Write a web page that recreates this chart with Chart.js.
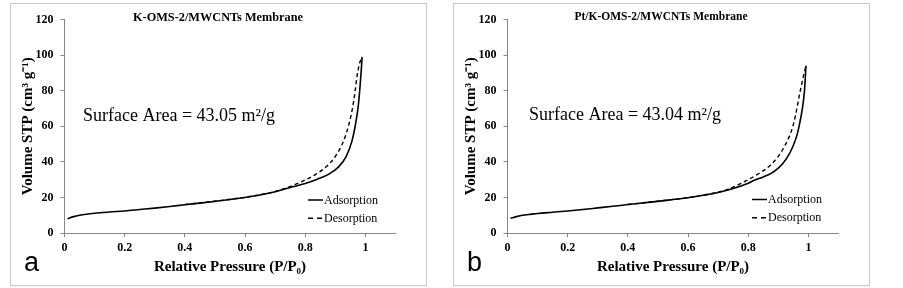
<!DOCTYPE html>
<html>
<head>
<meta charset="utf-8">
<script src="https://cdn.jsdelivr.net/npm/chart.js@4.4.1/dist/chart.umd.min.js"></script>
<style>
  html, body { margin: 0; padding: 0; background: #ffffff; }
  body { width: 903px; height: 288px; position: relative; overflow: hidden; }
  .panel { position: absolute; top: 3px; width: 415px; height: 281px; border: 1px solid #c8c8c8; background: #fff; }
  #pa { left: 10px; }
  #pb { left: 453px; }
  .panel canvas { display: block; }
</style>
</head>
<body>
<div class="panel" id="pa"><canvas id="ca"></canvas></div>
<div class="panel" id="pb"><canvas id="cb"></canvas></div>
<script>
// ---------- data ----------
const xTickValues = [0, 0.2, 0.4, 0.6, 0.8, 1];
const xTickLabels = ['0', '0.2', '0.4', '0.6', '0.8', '1'];
const yTickValues = [0, 20, 40, 60, 80, 100, 120];

const seriesNames = ['Adsorption', 'Desorption'];

// Panel a: K-OMS-2/MWCNTs Membrane
const aAdsP = [0.01,0.03,0.05,0.08,0.1,0.15,0.2,0.25,0.3,0.35,0.4,0.45,0.5,0.55,0.6,0.65,0.7,0.75,0.8,0.84,0.88,0.91,0.935,0.955,0.966,0.976,0.982,0.986,0.989];
const aAdsV = [8.0,9.2,10.0,10.7,11.1,11.8,12.4,13.2,14.0,14.9,15.9,16.8,17.8,18.8,20.0,21.4,23.2,25.6,27.8,30.2,33.2,37.0,42.6,51.5,60.0,71.0,82.0,91.0,99.0];
const aDesP = [0.4,0.5,0.6,0.65,0.7,0.724,0.75,0.79,0.835,0.868,0.9,0.928,0.945,0.958,0.966,0.972,0.98,0.987];
const aDesV = [16.0,17.9,20.1,21.5,23.3,24.6,26.1,29.0,33.0,37.0,43.0,52.0,61.0,71.0,80.0,88.0,95.0,98.5];

// Panel b: Pt/K-OMS-2/MWCNTs Membrane
const bAdsP = [0.01,0.03,0.05,0.08,0.1,0.15,0.2,0.25,0.3,0.35,0.4,0.45,0.5,0.55,0.6,0.65,0.7,0.75,0.8,0.82,0.85,0.876,0.9,0.915,0.935,0.948,0.962,0.971,0.98,0.987,0.992];
const bAdsV = [8.2,9.2,10.0,10.6,11.0,11.7,12.4,13.2,14.1,15.0,16.0,16.9,17.8,18.8,19.8,21.2,22.8,25.0,28.0,29.6,31.5,33.5,36.5,39.0,44.0,48.5,55.0,61.6,70.0,80.0,94.0];
const bDesP = [0.4,0.5,0.6,0.65,0.7,0.731,0.776,0.831,0.876,0.92,0.951,0.973,0.986,0.992];
const bDesV = [16.0,17.9,19.9,21.3,22.9,24.5,27.9,33.0,38.5,48.5,61.6,80.0,90.0,94.0];

const panelTitles = ['K-OMS-2/MWCNTs Membrane', 'Pt/K-OMS-2/MWCNTs Membrane'];
const surfaceTexts = ['Surface Area = 43.05 m\u00B2/g', 'Surface Area = 43.04 m\u00B2/g'];
const panelLetters = ['a', 'b'];
const xTitle = 'Relative Pressure (P/P\u2080)';
const yTitle = 'Volume STP (cm\u00B3 g\u207B\u00B9)';

// ---------- drawing ----------
function pts(xs, ys) { return xs.map((x, i) => ({ x: x, y: ys[i] })); }

const AXIS = '#868686';
const SERIF = '"Liberation Serif", "Times New Roman", serif';

const annotPlugin = {
  id: 'annot',
  afterDraw(chart) {
    const o = chart.options.plugins.annot;
    const ctx = chart.ctx;
    ctx.save();
    // title
    ctx.fillStyle = '#000';
    ctx.font = 'bold ' + o.titleSize + 'px ' + SERIF;
    ctx.textAlign = 'center';
    ctx.textBaseline = 'middle';
    ctx.fillText(o.title, o.titleX, o.titleY);
    // surface area text
    ctx.font = '18px ' + SERIF;
    ctx.textAlign = 'left';
    ctx.textBaseline = 'alphabetic';
    ctx.fillText(o.surface, o.surfX, o.surfY);
    // panel letter
    ctx.font = '27px "Liberation Sans", Arial, sans-serif';
    ctx.fillText(o.letter, 13, 267);
    // legend
    ctx.font = '12px ' + SERIF;
    ctx.textBaseline = 'middle';
    const ds = chart.data.datasets;
    ds.forEach((d, i) => {
      const y = o.legY + i * 18.3;
      ctx.beginPath();
      ctx.strokeStyle = '#000';
      ctx.lineWidth = 1.5;
      ctx.setLineDash(d.borderDash ? [5, 4] : []);
      ctx.moveTo(o.legX, y);
      ctx.lineTo(o.legX + 15, y);
      ctx.stroke();
      ctx.setLineDash([]);
      ctx.fillText(d.label, o.legX + 16, y + 0.5);
    });
    ctx.restore();
  }
};

function makeChart(id, ads, des, annot) {
  return new Chart(document.getElementById(id), {
    type: 'scatter',
    data: {
      datasets: [
        { label: seriesNames[0], data: ads, showLine: true, borderColor: '#000', borderWidth: 1.6,
          pointRadius: 0, cubicInterpolationMode: 'monotone', order: 1 },
        { label: seriesNames[1], data: des, showLine: true, borderColor: '#000', borderWidth: 1.4,
          borderDash: [4, 3], pointRadius: 0, cubicInterpolationMode: 'monotone', order: 2 }
      ]
    },
    options: {
      responsive: true,
      maintainAspectRatio: false,
      animation: false,
      events: [],
      layout: { padding: { left: 4, right: 30.5, top: 15.5, bottom: 0 } },
      plugins: { legend: { display: false }, tooltip: { enabled: false }, annot: annot },
      scales: {
        x: {
          type: 'linear', min: 0, max: 1.1,
          afterBuildTicks: s => { s.ticks = xTickValues.map(v => ({ value: v })); },
          afterFit: s => { s.height = 52; },
          ticks: { callback: (v, i) => xTickLabels[i], color: '#000', padding: 4,
                   font: { family: SERIF, size: 12, weight: 'bold' }, maxRotation: 0 },
          grid: { display: true, drawOnChartArea: false, drawTicks: true, tickLength: 4, color: AXIS },
          border: { display: true, color: AXIS, width: 1 },
          title: { display: true, text: xTitle, color: '#000', padding: { top: 0, bottom: 9 },
                   font: { family: SERIF, size: 15, weight: 'bold' } }
        },
        y: {
          type: 'linear', min: 0, max: 120,
          afterBuildTicks: s => { s.ticks = yTickValues.map(v => ({ value: v })); },
          afterFit: s => { s.width = 49.5; },
          ticks: { color: '#000', padding: 7,
                   font: { family: SERIF, size: 12, weight: 'bold' } },
          grid: { display: true, drawOnChartArea: false, drawTicks: true, tickLength: 4, color: AXIS },
          border: { display: true, color: AXIS, width: 1 },
          title: { display: true, text: yTitle, color: '#000', padding: { top: 4, bottom: 0 },
                   font: { family: SERIF, size: 15, weight: 'bold' } }
        }
      }
    },
    plugins: [annotPlugin]
  });
}

makeChart('ca', pts(aAdsP, aAdsV), pts(aDesP, aDesV), {
  title: panelTitles[0], titleSize: 12.3, titleX: 207, titleY: 13.5,
  surface: surfaceTexts[0], surfX: 72, surfY: 117,
  letter: panelLetters[0], legX: 297, legY: 196
});
makeChart('cb', pts(bAdsP, bAdsV), pts(bDesP, bDesV), {
  title: panelTitles[1], titleSize: 11.5, titleX: 207, titleY: 13.5,
  surface: surfaceTexts[1], surfX: 75, surfY: 115.5,
  letter: panelLetters[1], legX: 298, legY: 195.5
});
</script>
</body>
</html>
